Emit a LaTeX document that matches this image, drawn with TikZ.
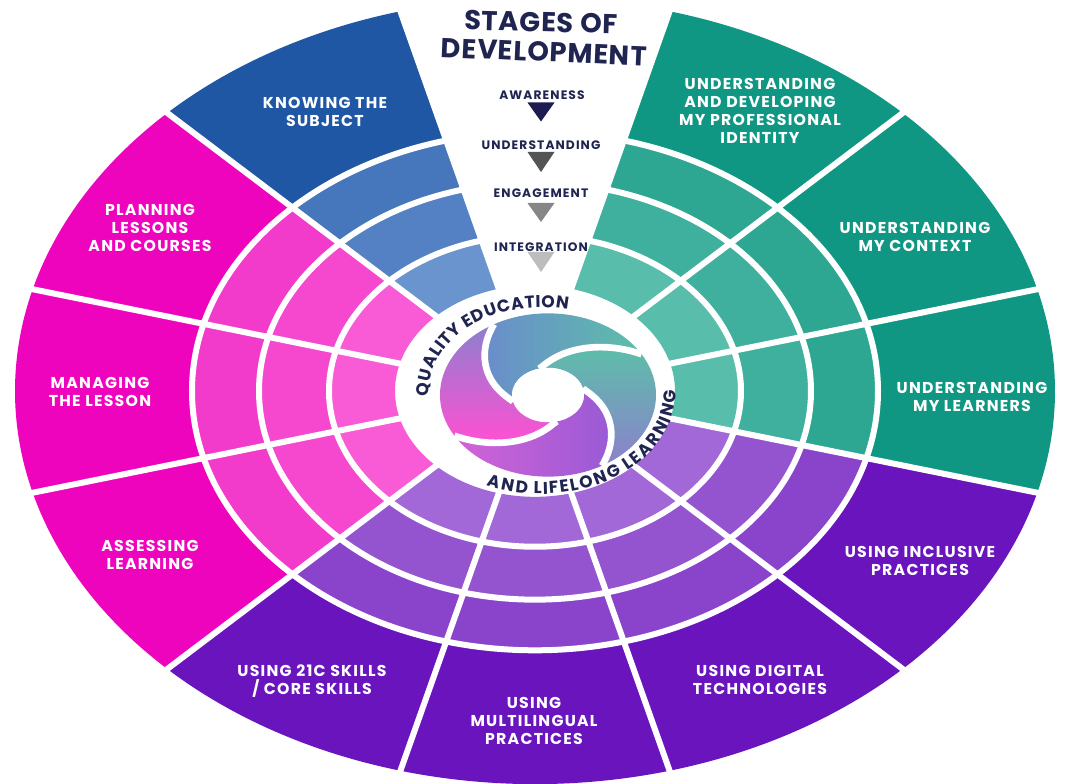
\documentclass[tikz,border=0pt]{standalone}
\usepackage{fontspec}
\setmainfont{Poppins}
\usetikzlibrary{decorations.text}

% band colours: 0 = outer band, 1..3 = rings towards the centre
\definecolor{kb0}{HTML}{1F57A5}\definecolor{kb1}{HTML}{4676BB}\definecolor{kb2}{HTML}{5381C3}\definecolor{kb3}{HTML}{6A94CD}
\definecolor{kp0}{HTML}{EE04BD}\definecolor{kp1}{HTML}{F23BCA}\definecolor{kp2}{HTML}{F548CF}\definecolor{kp3}{HTML}{F95AD6}
\definecolor{ku0}{HTML}{6A14BE}\definecolor{ku1}{HTML}{8944CB}\definecolor{ku2}{HTML}{9454D0}\definecolor{ku3}{HTML}{A268D8}
\definecolor{kt0}{HTML}{0F9783}\definecolor{kt1}{HTML}{2DA692}\definecolor{kt2}{HTML}{3EB09D}\definecolor{kt3}{HTML}{58BDAB}
\definecolor{navy}{HTML}{1F2550}
\definecolor{tri1}{HTML}{1E1A52}\definecolor{tri2}{HTML}{545454}
\definecolor{tri3}{HTML}{868686}\definecolor{tri4}{HTML}{BDBDBD}
\definecolor{swBlue}{HTML}{6A8DCB}\definecolor{swTeal}{HTML}{5DBEA9}
\definecolor{swViolet}{HTML}{8C80CE}\definecolor{swPurple}{HTML}{9A5AD6}
\definecolor{swPinkish}{HTML}{D263D6}\definecolor{swPink}{HTML}{FF50D3}

% one cell of the wheel: start angle, end angle, inner radius, outer radius, colour
\newcommand{\wheelcell}[5]{%
  \fill[#5] (#1:#3) arc[start angle=#1, end angle=#2, radius=#3]
    -- (#2:#4) arc[start angle=#2, end angle=#1, radius=#4] -- cycle;}

% one blade of the central swirl; its pointed head ends on the rim at angle #1
\newcommand{\swirlblade}[2]{%
  \shade[#2] (#1:108) arc[start angle=#1, delta angle=90, radius=108]
    -- plot[domain=75:0.5, samples=30, variable=\t] ({#1+165-\t}:{36+72*(\t/75)^1.4})
    -- plot[domain=0:90, samples=20, variable=\t] ({#1+165-\t}:36)
    -- plot[domain=0.5:75, samples=30, variable=\t] ({#1+75-\t}:{36+72*(\t/75)^1.4})
    -- cycle;}

\newcommand{\ringfont}{\bfseries\fontsize{12.8}{12.8}\selectfont}

\tikzset{
  sep/.style={white, line width=4.5pt},
  lbl/.style={text=white, font=\bfseries\fontsize{11.8}{13.3}\selectfont\addfontfeatures{LetterSpace=8},
              align=center, inner sep=0pt},
  stagetitle/.style={text=navy, font=\bfseries\fontsize{20.5}{21}\selectfont\addfontfeatures{LetterSpace=3},
              inner sep=0pt},
  stagelbl/.style={text=navy, font=\bfseries\fontsize{9.2}{9.5}\selectfont\addfontfeatures{LetterSpace=9},
              inner sep=0pt},
}

\begin{document}
\begin{tikzpicture}[x=0.75pt, y=0.75pt]
\useasboundingbox (-535,-393) rectangle (532,391);
\fill[white] (-535,-393) rectangle (532,391);

% ---------- the wheel ----------
\begin{scope}[yscale=0.756]
  \foreach \a/\b/\c in {105/135/kb, 135/165/kp, 165/195/kp, 195/225/kp,
                        225/255/ku, 255/285/ku, 285/315/ku, 315/345/ku,
                        345/375/kt, 15/45/kt, 45/75/kt}{
    \wheelcell{\a}{\b}{343}{520}{\c0}
    \wheelcell{\a}{\b}{276}{343}{\c1}
    \wheelcell{\a}{\b}{206}{276}{\c2}
    \wheelcell{\a}{\b}{140}{206}{\c3}
  }
  \draw[sep] (0,0) circle[radius=343];
  \draw[sep] (0,0) circle[radius=276];
  \draw[sep] (0,0) circle[radius=206];
  \foreach \a in {15,45,...,345} \draw[sep] (\a:138) -- (\a:524);
\end{scope}

% ---------- central swirl ----------
\begin{scope}[shift={(13,-4)}, yscale=0.756]
  \swirlblade{30}{left color=swBlue, right color=swTeal}
  \swirlblade{300}{top color=swTeal, bottom color=swViolet}
  \swirlblade{210}{left color=swPinkish, right color=swPurple}
  \swirlblade{120}{top color=swViolet, bottom color=swPink}
  \foreach \h in {30,120,210,300}
    \draw[white, line width=5pt] plot[domain=0.5:75, samples=30, variable=\t] ({\h+75-\t}:{36+72*(\t/75)^1.4});
  \fill[white] (0,0) circle[radius=36];
\end{scope}

% ---------- ring lettering, spread evenly along the ring ----------
\path[decorate, decoration={text effects along path, text={QUALITY EDUCATION},
      text effects/.cd, text along path, fit text to path,
      characters={text=navy, font=\ringfont}}]
  (6,-1) ++(183:112 and 84.7) arc[start angle=183, end angle=76, x radius=112, y radius=84.7];
\path[decorate, decoration={text effects along path, text={AND LIFELONG LEARNING},
      text effects/.cd, text along path, fit text to path,
      characters={text=navy, font=\ringfont}}]
  (6,-1) ++(246:135 and 102) arc[start angle=246, end angle=361, x radius=135, y radius=102];

% ---------- stages of development ----------
\node[stagetitle, rotate=-1.5] (stagesA) at (6,369) {STAGES OF};
\node[stagetitle, rotate=-2.5] (stagesB) at (9,339) {DEVELOPMENT};
\node[stagelbl] (aware) at (7,296) {AWARENESS};
\fill[tri1] (-7.5,288.5) -- (19.5,288.5) -- (6,269.5) -- cycle;
\node[stagelbl] (under) at (6,246) {UNDERSTANDING};
\fill[tri2] (-7.5,239) -- (19.5,239) -- (6,219) -- cycle;
\node[stagelbl] (engage) at (6,198) {ENGAGEMENT};
\fill[tri3] (-7.5,188) -- (19.5,188) -- (6,169) -- cycle;
\node[stagelbl] (integ) at (6,144) {INTEGRATION};
\fill[tri4] (-7.5,139) -- (19.5,139) -- (6,119) -- cycle;

% ---------- sector labels ----------
\node[lbl] (knowing) at (-210,279) {KNOWING THE\\SUBJECT};
\node[lbl] (planning) at (-385,163) {PLANNING\\LESSONS\\AND COURSES};
\node[lbl] (managing) at (-435,-1) {MANAGING\\THE LESSON};
\node[lbl] (assessing) at (-385,-164) {ASSESSING\\LEARNING};
\node[lbl] (skills) at (-223,-290) {USING 21C SKILLS\\/ CORE SKILLS};
\node[lbl] (multi) at (-1,-330) {USING\\MULTILINGUAL\\PRACTICES};
\node[lbl] (digital) at (225,-289) {USING DIGITAL\\TECHNOLOGIES};
\node[lbl] (inclusive) at (385,-170) {USING INCLUSIVE\\PRACTICES};
\node[lbl] (learners) at (437,-6) {UNDERSTANDING\\MY LEARNERS};
\node[lbl] (context) at (380,154) {UNDERSTANDING\\MY CONTEXT};
\node[lbl] (identity) at (225,280) {UNDERSTANDING\\AND DEVELOPING\\MY PROFESSIONAL\\IDENTITY};
\end{tikzpicture}
\end{document}
